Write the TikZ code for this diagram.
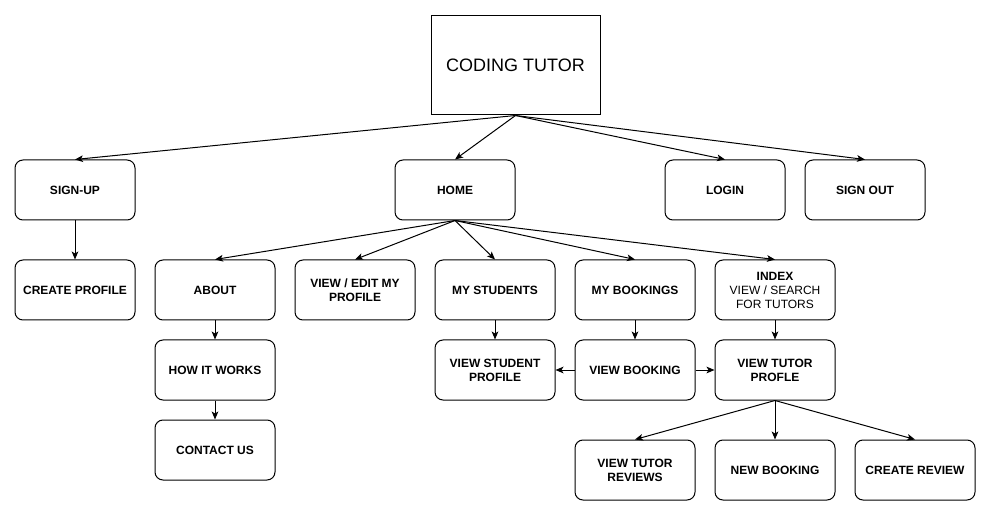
\documentclass[tikz,border=0pt]{standalone}
\usepackage{fontspec}
\setmainfont{Liberation Sans}
\usepackage{tikz}
\usetikzlibrary{arrows.meta}

\begin{document}
\begin{tikzpicture}[x=0.75pt, y=-0.75pt,
        page/.style={draw, rounded corners=6pt, line width=0.75pt, minimum width=90pt, minimum height=45pt, align=center, font=\fontsize{9}{10.5}\selectfont\bfseries},
        link/.style={line width=0.75pt, -{Stealth[length=6pt, width=5pt, inset=1.5pt]}}]
        \useasboundingbox (0,0) rectangle (994,523);

        \node[draw, line width=0.75pt, minimum width=126.75pt, minimum height=74.25pt, font=\fontsize{13.5}{15}\selectfont] (tutor) at (515.5,65.5) {CODING TUTOR};

        \node[page] (signup) at (75,190) {SIGN-UP};
        \node[page] (home) at (455,190) {HOME};
        \node[page] (login) at (725,190) {LOGIN};
        \node[page] (signout) at (865,190) {SIGN OUT};

        \node[page] (createprofile) at (75,290) {CREATE PROFILE};
        \node[page] (about) at (215,290) {ABOUT};
        \node[page] (editprofile) at (355,290) {VIEW / EDIT MY\\PROFILE};
        \node[page] (mystudents) at (495,290) {MY STUDENTS};
        \node[page] (mybookings) at (635,290) {MY BOOKINGS};
        \node[page] (index) at (775,290) {INDEX\\\mdseries VIEW / SEARCH\\\mdseries FOR TUTORS};

        \node[page] (howitworks) at (215,370) {HOW IT WORKS};
        \node[page] (studentprofile) at (495,370) {VIEW STUDENT\\PROFILE};
        \node[page] (viewbooking) at (635,370) {VIEW BOOKING};
        \node[page] (tutorprofile) at (775,370) {VIEW TUTOR\\PROFLE};

        \node[page] (contactus) at (215,450) {CONTACT US};

        \node[page] (tutorreviews) at (635,470) {VIEW TUTOR\\REVIEWS};
        \node[page] (newbooking) at (775,470) {NEW BOOKING};
        \node[page] (createreview) at (915,470) {CREATE REVIEW};

        \draw[link] (tutor.south) -- (signup.north);
        \draw[link] (tutor.south) -- (home.north);
        \draw[link] (tutor.south) -- (login.north);
        \draw[link] (tutor.south) -- (signout.north);

        \draw[link] (signup) -- (createprofile);

        \draw[link] (home.south) -- (about.north);
        \draw[link] (home.south) -- (editprofile.north);
        \draw[link] (home.south) -- (mystudents.north);
        \draw[link] (home.south) -- (mybookings.north);
        \draw[link] (home.south) -- (index.north);

        \draw[link] (about) -- (howitworks);
        \draw[link] (howitworks) -- (contactus);
        \draw[link] (mystudents) -- (studentprofile);
        \draw[link] (mybookings) -- (viewbooking);
        \draw[link] (index) -- (tutorprofile);
        \draw[link] (viewbooking) -- (studentprofile);
        \draw[link] (viewbooking) -- (tutorprofile);

        \draw[link] (tutorprofile.south) -- (tutorreviews.north);
        \draw[link] (tutorprofile.south) -- (newbooking.north);
        \draw[link] (tutorprofile.south) -- (createreview.north);
\end{tikzpicture}
\end{document}
